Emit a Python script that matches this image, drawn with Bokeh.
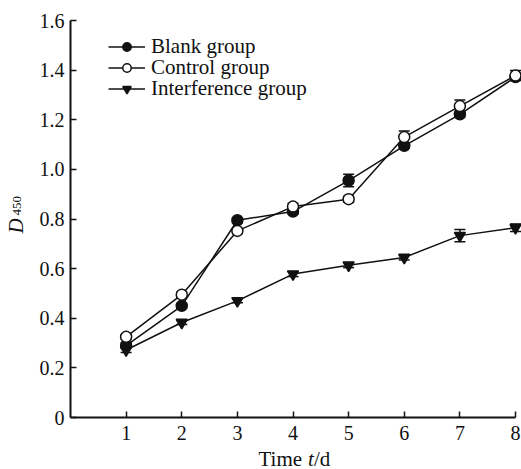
import math
from bokeh.plotting import figure
from bokeh.models import (ColumnDataSource, FixedTicker, Legend, LegendItem,
                          Whisker, TeeHead, Label, Range1d)
from bokeh.embed import file_html
from bokeh.resources import INLINE

# ---- data ----
days = [1, 2, 3, 4, 5, 6, 7, 8]
blank = [0.29, 0.45, 0.795, 0.83, 0.955, 1.095, 1.222, 1.372]
blank_err = [0.01, 0.01, 0.01, 0.01, 0.025, 0.01, 0.012, 0.012]
control = [0.325, 0.495, 0.752, 0.85, 0.88, 1.13, 1.255, 1.378]
control_err = [0.01, 0.01, 0.01, 0.012, 0.012, 0.025, 0.025, 0.02]
interference = [0.272, 0.383, 0.47, 0.578, 0.614, 0.645, 0.733, 0.765]
interference_err = [0.01, 0.008, 0.008, 0.01, 0.01, 0.01, 0.025, 0.015]

series_names = ["Blank group", "Control group", "Interference group"]
y_ticks = [0, 0.2, 0.4, 0.6, 0.8, 1.0, 1.2, 1.4, 1.6]
y_tick_labels = ["0", "0.2", "0.4", "0.6", "0.8", "1.0", "1.2", "1.4", "1.6"]
x_ticks = [1, 2, 3, 4, 5, 6, 7, 8]

FONT = "Liberation Serif"
INK = "#111111"

W, H = 521, 469
# plot area in pixels: x 0..8 -> 70..515, y 0..1.6 -> 417..20
px_x = (515 - 70) / 8.0
px_y = (417 - 20) / 1.6
x_range = Range1d(0 - 70 / px_x, 8 + (W - 515) / px_x)
y_range = Range1d(0 - (H - 417) / px_y, 1.6 + 20 / px_y)

p = figure(width=W, height=H, x_range=x_range, y_range=y_range,
           output_backend="svg", toolbar_location=None,
           min_border=0, min_border_left=0, min_border_right=0,
           min_border_top=0, min_border_bottom=0)
p.outline_line_color = None
p.grid.grid_line_color = None
p.background_fill_color = "white"

p.xaxis.fixed_location = 0
p.yaxis.fixed_location = 0
p.xaxis.bounds = (0, 8)
p.yaxis.bounds = (0, 1.6)

for ax in (p.xaxis, p.yaxis):
    ax.axis_line_color = INK
    ax.axis_line_width = 2
    ax.major_tick_line_color = INK
    ax.major_tick_line_width = 1.5
    ax.major_tick_in = 6
    ax.major_tick_out = 0
    ax.minor_tick_line_color = None
    ax.major_label_text_font = FONT
    ax.major_label_text_font_size = "20px"
    ax.major_label_text_color = INK

p.xaxis.ticker = FixedTicker(ticks=x_ticks)
p.yaxis.ticker = FixedTicker(ticks=y_ticks)
p.yaxis.major_label_overrides = {t: l for t, l in zip(y_ticks, y_tick_labels)}
p.xaxis.major_label_standoff = 8
p.yaxis.major_label_standoff = 6

def add_series(vals, errs, marker, fill):
    src = ColumnDataSource(dict(x=days, y=vals,
                                up=[v + e for v, e in zip(vals, errs)],
                                lo=[v - e for v, e in zip(vals, errs)]))
    w = Whisker(source=src, base="x", upper="up", lower="lo",
                line_color=INK, line_width=1.5,
                upper_head=TeeHead(size=11, line_color=INK, line_width=1.5),
                lower_head=TeeHead(size=11, line_color=INK, line_width=1.5))
    p.add_layout(w)
    ln = p.line("x", "y", source=src, line_color=INK, line_width=1.5)
    sc = p.scatter("x", "y", source=src, marker=marker, size=11,
                   fill_color=fill, line_color=INK, line_width=1.5)
    return [ln, sc]

r1 = add_series(blank, blank_err, "circle", INK)
r2 = add_series(control, control_err, "circle", "white")
r3 = add_series(interference, interference_err, "inverted_triangle", INK)

# one legend per row so the row pitch matches the reference
for name, rends, ypos in zip(series_names, [r1, r2, r3], [410, 389, 368]):
    lg = Legend(items=[LegendItem(label=name, renderers=rends)],
                location=(108, ypos), padding=0, margin=0, spacing=0,
                glyph_width=37, glyph_height=21, label_height=21,
                label_standoff=6, border_line_color=None,
                background_fill_alpha=0,
                label_text_font=FONT, label_text_font_size="21px",
                label_text_color=INK)
    p.add_layout(lg)

# y-axis label: D (italic) with subscript 450
p.add_layout(Label(x=15, y=236, x_units="screen", y_units="screen",
                   text="D", angle=math.pi / 2, text_font=FONT,
                   text_font_style="italic", text_font_size="21px",
                   text_color=INK, text_baseline="alphabetic",
                   text_align="left"))
p.add_layout(Label(x=16, y=254, x_units="screen", y_units="screen",
                   text="450", angle=math.pi / 2, text_font=FONT,
                   text_font_size="13px", text_color=INK,
                   text_baseline="alphabetic", text_align="left"))

# x-axis label: Time t/d
p.add_layout(Label(x=258, y=11, x_units="screen", y_units="screen",
                   text="Time ", text_font=FONT, text_font_size="21px",
                   text_color=INK, text_baseline="alphabetic",
                   text_align="left"))
p.add_layout(Label(x=307.5, y=11, x_units="screen", y_units="screen",
                   text="t", text_font=FONT, text_font_style="italic",
                   text_font_size="21px", text_color=INK,
                   text_baseline="alphabetic", text_align="left"))
p.add_layout(Label(x=313.5, y=11, x_units="screen", y_units="screen",
                   text="/d", text_font=FONT, text_font_size="21px",
                   text_color=INK, text_baseline="alphabetic",
                   text_align="left"))

open("out.html", "w").write(file_html(p, INLINE))
